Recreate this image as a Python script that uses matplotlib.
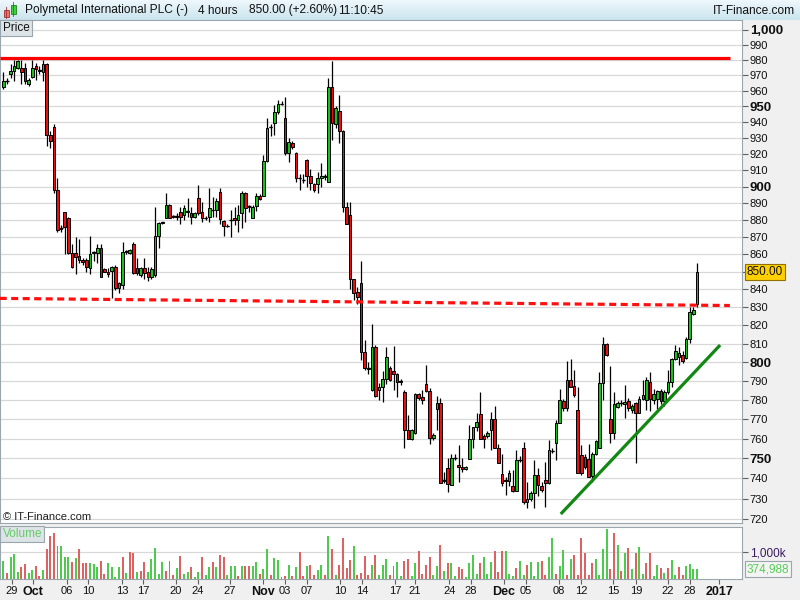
import numpy as np
import matplotlib
matplotlib.use("Agg")
import matplotlib.pyplot as plt
import matplotlib.transforms as mtransforms
from matplotlib.patches import Rectangle
from matplotlib.ticker import FixedLocator, NullLocator, NullFormatter

plt.rcParams['font.family'] = ['Liberation Sans', 'DejaVu Sans']

# 4-hour candles, Polymetal International PLC, end Sep 2016 - end Dec 2016
opens = [
    962, 966, 971, 973, 975, 975, 975, 964, 969, 976,
    973, 972, 977, 932, 937, 898, 875, 885, 881, 861,
    861, 859, 857, 857, 852, 861, 861, 864, 851.5, 850,
    850.5, 852.5, 841, 842.5, 861.5, 861, 866, 852, 848, 852,
    850, 847, 848, 871, 878.5, 881.5, 889, 882, 882, 885,
    883, 885, 884, 882, 893,
    884.6, 881, 882, 886, 886, 897, 879.6, 876.5, 880, 881,
    880, 884.5, 896, 888, 881.5, 888.5, 894.5, 894.6, 915.5, 936.6,
    939.6, 946.5, 951.5, 942.3, 920.4, 927, 920.4, 905, 904, 916,
    906.5, 901.7, 901.5, 905, 906, 903, 962, 939, 947, 934,
    888, 883, 845.7, 838.7, 843.8,
    805.6, 796.5, 785, 808, 785, 787, 791, 797, 795.4, 793.4,
    789.5, 784, 764.6, 759.8, 763, 783, 781.6, 788.6, 784.7, 760.3,
    775, 778.3, 738.7, 745, 736.6, 750, 746.5, 745.5, 744.5, 749.4,
    760, 765.7, 772.4, 761.2, 761.2, 764.6, 769.8, 755, 742, 738.7,
    738.7, 736, 733.7, 749, 755, 728.3, 729.7, 732.8,
    741.5, 736.2, 739, 737.4, 753.7, 757.5, 768.2, 779.5, 776, 790.7,
    787.4, 774.5, 751.5, 750.7, 749.5, 741, 752, 755.4, 789, 809.7,
    769.8, 763, 776.3, 778.5, 778, 779.3, 774.5, 778.5, 773.3, 780.7,
    780, 789.5, 780, 780.7, 784.7, 779.5, 784.2, 789.5, 801.5, 802.5,
    804, 802, 812.8, 826.4, 832,
]
highs = [
    972, 968, 977, 980, 980, 980, 978, 968, 980, 978,
    976, 980, 978, 934, 939, 905, 877, 885, 882, 866,
    870, 869, 858, 858, 871, 862, 866, 866, 852, 852,
    853.5, 854, 844, 867, 862.5, 863, 867, 858, 853, 858,
    853, 853, 888, 879, 879, 896, 889.5, 883, 884, 888,
    889, 893, 888, 885, 901,
    891, 882.5, 899, 894, 893, 899, 880, 877.5, 886, 888,
    889, 897.5, 897, 889, 889, 896, 895.5, 919.3, 942.3, 939,
    951, 954, 953, 956, 930, 928, 921, 908, 908, 917,
    911, 902.5, 909, 914.3, 908, 968, 979, 950, 957, 935,
    891, 891, 846, 841.5, 856.5,
    812, 800, 820.6, 809, 789, 795, 808, 798, 808.7, 794,
    791, 785, 772, 765, 783.5, 783.5, 785, 798.3, 786, 763,
    782, 781, 743, 750, 752, 752, 756.8, 750, 746, 766.8,
    766, 773, 784, 762.5, 764, 773.7, 777, 757, 752, 740.5,
    744, 744, 754, 751, 758.3, 738, 733.5, 749,
    745, 738, 748, 759, 755, 769.4, 785.6, 780.5, 800.7, 801.6,
    795.7, 786.8, 756.6, 752, 757, 753, 759, 794.7, 813.7, 810.5,
    797.8, 784, 779.5, 780, 787.7, 781, 778, 779, 782, 790.4,
    792, 794.7, 785.5, 785, 785.5, 785, 795.7, 802, 809, 808,
    806, 813.8, 830.3, 830, 854.8,
]
lows = [
    961, 964, 968, 966, 974, 964, 964, 963, 968, 967,
    971, 966, 925, 924, 896, 873, 873, 860, 860, 852,
    849, 855, 854, 850, 849, 856, 855, 847, 850, 847,
    835, 839.6, 838, 840, 860.5, 860, 849, 848, 847, 846,
    845, 846, 847, 863.5, 878, 881, 881, 881, 880, 878,
    880, 882, 878, 881, 883,
    879, 880, 879, 882, 882, 878, 871, 876, 870, 877,
    873, 875.6, 879, 885, 881, 885.5, 892, 894.6, 915, 931,
    932, 945, 950.5, 919.6, 915, 923, 903, 898, 902, 900,
    898, 897, 896, 900, 904, 903, 928.6, 936, 926.6, 885,
    878, 840, 834, 832, 801,
    795.8, 793.5, 784.7, 781.5, 780, 779, 788.6, 790, 785, 781.6,
    788, 755.4, 759.8, 759, 762.5, 780, 778, 784, 757, 759,
    764.6, 737.7, 737.7, 733, 736.6, 749, 738, 743, 744, 749.4,
    755, 764, 760, 755, 760.5, 754, 755, 747.7, 736, 731.5,
    736, 733, 733.7, 748, 727.5, 725.4, 729, 725.4,
    731, 733, 726, 737, 752.5, 749, 768, 774, 774, 786.5,
    781.6, 742.4, 741.5, 744.5, 740.4, 738, 751.5, 755.4, 779.8, 803.5,
    757.5, 759.7, 775.5, 777, 770.3, 774, 773, 747.4, 773, 780,
    774.5, 774, 778, 775, 778, 777, 783, 786.8, 801, 798.5,
    799.5, 801.5, 810.1, 825.5, 830.3,
]
closes = [
    966, 966.5, 973, 976, 979, 972, 966, 967, 975, 974,
    973.3, 977, 932, 928, 898, 874, 875.3, 876, 861, 852.5,
    858.6, 857, 855.5, 853, 860, 861.3, 864, 847, 850, 849,
    852.5, 841, 843.5, 861.5, 861.7, 862.5, 849.5, 849.5, 852, 849.5,
    847, 851.5, 870.6, 878.5, 878.7, 889, 881.5, 882.2, 882.3, 882,
    887, 885.2, 882, 884, 884,
    881.5, 881.2, 887, 886.2, 891.5, 880.5, 876.5, 876.7, 880.2, 880,
    883, 896.5, 887, 888.2, 888, 894.5, 892.5, 915.5, 936, 936.8,
    946.5, 951.3, 951.7, 920.4, 927.7, 924.5, 905, 905.2, 904.2, 906.5,
    902, 898, 905, 906.5, 906.2, 962, 939.6, 948.7, 934, 888,
    878, 845.7, 838, 836, 805.6,
    796.7, 796.8, 808, 782, 787, 791, 802.5, 790.7, 793.5, 789.5,
    789.7, 764.6, 759.8, 764.3, 783, 781, 780, 784.7, 760.3, 762,
    778.3, 737.7, 738.9, 737, 750, 750.2, 745.5, 744.5, 745.5, 760,
    765.7, 768.6, 760, 760, 763, 769.8, 755, 747.7, 737.7, 738.9,
    742.4, 733.7, 749, 749.2, 728.3, 730, 732.5, 741.5,
    736.5, 734, 737.4, 754, 753.9, 768.2, 779.8, 775.6, 790.7, 786.8,
    782.5, 742.4, 742.4, 745.4, 740.7, 752.4, 758.7, 789, 809.7, 804,
    763, 778, 778.5, 778.3, 779, 775.6, 777, 773.3, 780.7, 782.5,
    790.4, 780.7, 783.3, 784.7, 779.5, 784.2, 789.5, 801.5, 806, 805,
    800.5, 812.8, 827.3, 828.6, 850,
]

# volume in thousands of shares, and bar colour (g = up, r = down)
volume_k = [
    675, 237, 812, 937, 275, 462, 562, 237, 337, 487,
    112, 337, 1125, 1625, 1737, 1237, 1237, 837, 837, 650,
    800, 1125, 612, 612, 612, 562, 462, 675, 187, 612,
    462, 62, 462, 837, 237, 1025, 987, 275, 312, 650,
    275, 750, 1175, 187, 650, 300, 687, 150, 400, 875,
    187, 275, 462, 87, 275, 837, 150, 462, 625, 462,
    900, 837, 150, 487, 487, 125, 487, 500, 500, 500,
    650, 187, 375, 1125, 150, 775, 712, 87, 125, 525,
    112, 462, 1025, 112, 487, 525, 150, 337, 525, 150,
    1612, 1125, 150, 525, 1525, 400, 712, 1237, 150, 237,
    862, 150, 525, 900, 150, 525, 750, 150, 500, 625,
    112, 675, 750, 112, 612, 1050, 187, 525, 812, 150,
    487, 1275, 312, 612, 612, 112, 437, 362, 62, 612,
    900, 187, 612, 812, 187, 625, 1050, 275, 1050, 1050,
    200, 112, 400, 675, 150, 525, 650, 112, 650, 675,
    150, 812, 1550, 187, 487, 1087, 150, 750, 900, 150,
    1550, 987, 150, 612, 737, 150, 1125, 1875, 375, 1712,
    1275, 312, 987, 1175, 375, 987, 1187, 187, 612, 962,
    112, 525, 425, 237, 425, 712, 150, 462, 150, 500,
    562, 375, 374.988,
]
volume_side = (
    "grgggrrggr" "rgrrrrgggr" "grrrgggrrg" "gggrgrrgrr" "gggggrrrgr"
    "ggrggrggrg" "rrgggrgrrg" "grggrggrrg" "rgrrgrrggr" "grgrrrrgrr"
    "rrgrgggrrg"
    "grrggrrrrg" "grgrggrrgg" "ggrgggrrrg" "ggrggrgggr" "rggrggrgrr"
    "rrrrgggg" "rr" "grgrgrggrr" "ggrgrgg" "rrg" "ggg"
)

date_pos = [2.3, 8.2, 17.6, 23.4, 32.9, 38.7, 47.8, 53.9, 62.7, 71.9, 78.0,
            84.0, 93.2, 99.3, 108.4, 114.0, 123.4, 129.4, 138.6, 144.7,
            153.8, 159.9, 168.7, 175.1, 184.0, 190.0, 198.1]
date_labels = ['29', 'Oct', '06', '10', '13', '17', '20', '24', '27', 'Nov',
               '03', '07', '10', '14', '17', '21', '24', '28', 'Dec', '05',
               '08', '12', '15', '19', '22', '28', '2017']
bold_dates = {'Oct', 'Nov', 'Dec', '2017'}

# drawn lines: resistance, broken support, rising trend
resist_x, resist_y = [-1, 201.1], [981, 981]
support_x, support_y = [-1, 201.1], [835, 831]
trend_x, trend_y = [154.6, 198.1], [723, 808.6]

price_ticks = list(range(720, 1001, 10))
bold_prices = {1000, 950, 900, 800, 750}
last_price = 850.00
last_volume = 374988

W, H = 800, 600


def px(x0, y0, x1, y1):
    # pixel box measured from the top-left corner -> figure fraction
    return [x0 / W, 1 - y1 / H, (x1 - x0) / W, (y1 - y0) / H]


fig = plt.figure(figsize=(8, 6), dpi=100, facecolor='#f0f0f0')

# ---- header bar
hd = fig.add_axes(px(0, 0, 800, 20))
top_c = np.array([238, 247, 251]) / 255
bot_c = np.array([203, 228, 238]) / 255
g = np.linspace(0, 1, 20)[:, None, None]
hd.imshow(top_c + (bot_c - top_c) * g, aspect='auto', extent=(0, 800, 20, 0))
hd.set_xlim(0, 800)
hd.set_ylim(20, 0)
hd.axis('off')
hd.add_patch(Rectangle((3.5, 9.5), 5, 7, fc='#f07070', ec='#a03030', lw=0.6))
hd.plot([6, 6], [7, 18], color='#a03030', lw=0.6)
hd.add_patch(Rectangle((10.5, 4.5), 5, 9, fc='#40d040', ec='#208020', lw=0.6))
hd.plot([13, 13], [2, 16], color='#208020', lw=0.6)
for xx, s in [(25, 'Polymetal International PLC (-)'), (198, '4 hours'),
              (249, '850.00 (+2.60%)'), (338, '11:10:45')]:
    hd.text(xx, 10.5, s, va='center', ha='left', fontsize=8.6, color='#101010')
hd.text(795, 10.5, 'IT-Finance.com', va='center', ha='right', fontsize=8.6, color='#101010')

# ---- price panel
ax = fig.add_axes(px(0, 20, 742, 523))
x = np.arange(len(opens))
o, hi, lo, c = (np.array(v, float) for v in (opens, highs, lows, closes))
up = c >= o
dx = 3.613
ax.set_xlim(-3.3 / dx, (742 - 3.3) / dx)
ax.set_yscale('log')
ax.set_ylim(718.1, 1006.6)

ax.yaxis.set_major_locator(FixedLocator(price_ticks))
ax.yaxis.set_minor_locator(NullLocator())
ax.yaxis.set_minor_formatter(NullFormatter())
ax.set_yticklabels(['' if p == 850 else ('1,000' if p == 1000 else str(p)) for p in price_ticks])
ax.yaxis.tick_right()
ax.tick_params(axis='y', direction='out', length=4, width=0.8, color='#606060',
               pad=1.5, labelsize=8, labelcolor='#101010')
for lbl, p in zip(ax.get_yticklabels(), price_ticks):
    if p in bold_prices:
        lbl.set_fontweight('bold')
        lbl.set_fontsize(9.5)
ax.set_xticks([])
ax.grid(axis='y', color='#d8d8d8', lw=0.9)
ax.set_axisbelow(True)
for sp in ax.spines.values():
    sp.set_color('#9aa6ae')

ax.vlines(x, lo, hi, color='black', lw=0.9, zorder=2)
body_lo = np.minimum(o, c)
body_h = np.abs(c - o)
ax.bar(x[up], body_h[up], bottom=body_lo[up], width=0.72, color='#18c018',
       edgecolor='black', lw=0.7, zorder=3)
ax.bar(x[~up], body_h[~up], bottom=body_lo[~up], width=0.72, color='#e81010',
       edgecolor='black', lw=0.7, zorder=3)
flat = body_h < 0.6
ax.hlines(c[flat], x[flat] - 0.45, x[flat] + 0.45, color='black', lw=1.0, zorder=3)

ax.plot(resist_x, resist_y, color='#ff0000', lw=2.3, zorder=4, solid_capstyle='butt')
ax.plot(support_x, support_y, color='#ff1010', lw=2.3, zorder=4, dashes=(2.2, 1.4))
ax.plot(trend_x, trend_y, color='#118811', lw=2.3, zorder=4)

yblend = mtransforms.blended_transform_factory(ax.transAxes, ax.transData)
ax.text(1.0065, last_price, f'{last_price:.2f}', transform=yblend, va='center', ha='left',
        fontsize=8.5, color='#101010', clip_on=False,
        bbox=dict(boxstyle='square,pad=0.15', fc='#ffd000', ec='#907000', lw=0.8))
ax.text(3 / 742, 1 / 503, '\u00a9 IT-Finance.com', transform=ax.transAxes,
        va='bottom', ha='left', fontsize=8, color='#202020')
ax.text(2.5 / 742, 1 - 8 / 503, 'Price', transform=ax.transAxes, va='center', ha='left',
        fontsize=8.5, color='#101010',
        bbox=dict(boxstyle='square,pad=0.2', fc='#dde4e8', ec='#9aa6ae', lw=0.8))

# ---- volume panel
av = fig.add_axes(px(0, 527, 742, 579))
vol = np.array(volume_k) * 1000
vcol = ['#4ecb4e' if s == 'g' else '#de6262' for s in volume_side]
av.bar(np.arange(len(vol)), vol, width=0.55, color=vcol, zorder=3)
av.set_xlim(ax.get_xlim())
av.set_ylim(0, 1950000)
av.yaxis.tick_right()
av.set_yticks([1000000])
av.set_yticklabels(['1,000k'])
av.tick_params(axis='y', direction='out', length=4, width=0.8, color='#606060',
               pad=1.5, labelsize=8.5, labelcolor='#3a1a62')
av.grid(axis='y', color='#d8d8d8', lw=0.9)
av.set_axisbelow(True)
av.set_xticks(date_pos)
av.set_xticklabels(date_labels)
av.tick_params(axis='x', direction='out', length=3.5, width=0.8, color='#606060',
               pad=1.2, labelsize=8, labelcolor='#101010')
for lbl in av.get_xticklabels():
    if lbl.get_text() in bold_dates:
        lbl.set_fontweight('bold')
        lbl.set_fontsize(9)
for sp in av.spines.values():
    sp.set_color('#9aa6ae')
vblend = mtransforms.blended_transform_factory(av.transAxes, av.transData)
av.text(1.0065, last_volume, f'{last_volume:,}', transform=vblend, va='center', ha='left',
        fontsize=8.5, color='#55d055', clip_on=False,
        bbox=dict(boxstyle='square,pad=0.15', fc='#f4f4f4', ec='#9aa6ae', lw=0.8))
av.text(2.5 / 742, 1 - 7 / 52, 'Volume', transform=av.transAxes, va='center', ha='left',
        fontsize=8.5, color='#66cc66',
        bbox=dict(boxstyle='square,pad=0.2', fc='#dde4e8', ec='#9aa6ae', lw=0.8))

fig.savefig('out.png', dpi=100, facecolor=fig.get_facecolor())
